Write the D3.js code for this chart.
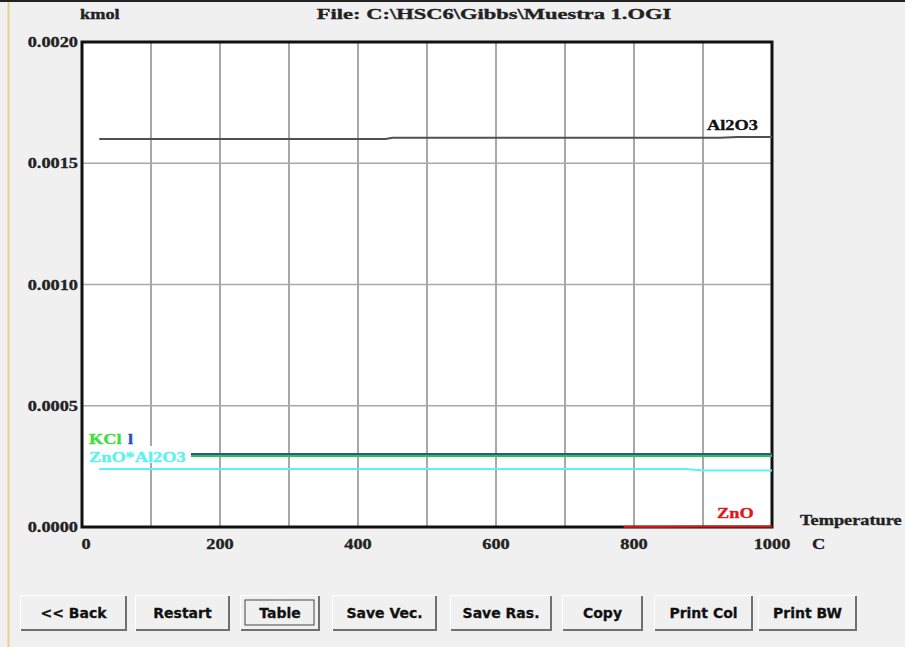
<!DOCTYPE html>
<html>
<head>
<meta charset="utf-8">
<script src="https://cdn.jsdelivr.net/npm/d3@7"></script>
<style>
  body { margin: 0; background: #f0f0f0; }
  svg { display: block; }
  .lbl { font-family: "Liberation Serif", serif; font-weight: bold; font-size: 15px; stroke-width: 0.35px; }
  .btn text { font-family: "DejaVu Sans", sans-serif; font-weight: bold; font-size: 14px; }
</style>
</head>
<body>
<svg id="chart" width="905" height="647"></svg>
<script>
// temperatures (C) and amounts (kmol)
let temps = [25, 50, 100, 150, 200, 250, 300, 350, 400, 440, 450, 500, 550, 600, 650, 700, 750, 800, 850, 875, 900, 925, 950, 1000];
let al2o3 = [0.001600, 0.001600, 0.001600, 0.001600, 0.001600, 0.001600, 0.001600, 0.001600, 0.001600, 0.001600, 0.001605, 0.001605, 0.001605, 0.001605, 0.001605, 0.001605, 0.001605, 0.001605, 0.001605, 0.001605, 0.001605, 0.001605, 0.001608, 0.001608];
let kclBlue = [0.000301, 0.000301, 0.000301, 0.000301, 0.000301, 0.000301, 0.000301, 0.000301, 0.000301, 0.000301, 0.000301, 0.000301, 0.000301, 0.000301, 0.000301, 0.000301, 0.000301, 0.000301, 0.000301, 0.000301, 0.000301, 0.000301, 0.000301, 0.000301];
let kclGreen = [0.000293, 0.000293, 0.000293, 0.000293, 0.000293, 0.000293, 0.000293, 0.000293, 0.000293, 0.000293, 0.000293, 0.000293, 0.000293, 0.000293, 0.000293, 0.000293, 0.000293, 0.000293, 0.000293, 0.000293, 0.000293, 0.000293, 0.000293, 0.000293];
let znoAl2o3 = [0.000239, 0.000239, 0.000239, 0.000239, 0.000239, 0.000239, 0.000239, 0.000239, 0.000239, 0.000239, 0.000239, 0.000239, 0.000239, 0.000239, 0.000239, 0.000239, 0.000239, 0.000239, 0.000239, 0.000239, 0.000233, 0.000233, 0.000233, 0.000233];
let znoTemps = [785, 800, 850, 900, 950, 1000];
let zno = [0.000001, 0.000001, 0.000001, 0.000002, 0.000002, 0.000002];

let xTicks = [0, 200, 400, 600, 800, 1000];
let yTicks = [0, 0.0005, 0.0010, 0.0015, 0.0020];
let buttons = ["<< Back", "Restart", "Table", "Save Vec.", "Save Ras.", "Copy", "Print Col", "Print BW"];

let svg = d3.select("#chart"),
    margin = {top: 42, right: 133, bottom: 120, left: 82},
    width = +svg.attr("width"),
    height = +svg.attr("height");

let x = d3.scaleLinear().domain([0, 1000]).range([margin.left, width - margin.right]);
let y = d3.scaleLinear().domain([0, 0.002]).range([height - margin.bottom, margin.top]);

// window frame
svg.append("rect").attr("x", 0).attr("y", 0).attr("width", width).attr("height", height).attr("fill", "#f0f0f0");
svg.append("line").attr("x1", 0).attr("x2", width).attr("y1", 1).attr("y2", 1).attr("stroke", "#222").attr("stroke-width", 2);
svg.append("line").attr("x1", 8.5).attr("x2", 8.5).attr("y1", 2).attr("y2", height).attr("stroke", "#e8d08c").attr("stroke-width", 2);

// plot area
svg.append("rect")
    .attr("x", x(0)).attr("y", y(0.002))
    .attr("width", x(1000) - x(0)).attr("height", y(0) - y(0.002))
    .attr("fill", "#fff");

// grid
let grid = svg.append("g");
grid.selectAll(".vg").data(d3.range(100, 1000, 100)).enter().append("line")
    .attr("x1", d => x(d)).attr("x2", d => x(d))
    .attr("y1", y(0.002)).attr("y2", y(0))
    .attr("stroke", "#a8a8a8").attr("stroke-width", 2);
grid.selectAll(".hg").data(yTicks.slice(1, 4)).enter().append("line")
    .attr("x1", x(0)).attr("x2", x(1000))
    .attr("y1", d => y(d)).attr("y2", d => y(d))
    .attr("stroke", "#a8a8a8").attr("stroke-width", 1.5);

svg.append("rect")
    .attr("x", x(0)).attr("y", y(0.002))
    .attr("width", x(1000) - x(0)).attr("height", y(0) - y(0.002))
    .attr("fill", "none").attr("stroke", "#111").attr("stroke-width", 3);

// series
let line = d3.line().x(d => x(d[0])).y(d => y(d[1]));
let series = [
    {name: "Al2O3", t: temps, v: al2o3, color: "#505050"},
    {name: "ZnO*Al2O3", t: temps, v: znoAl2o3, color: "#5cf2f2"},
    {name: "KCl", t: temps, v: kclGreen, color: "#2ec43a"},
    {name: "KCl", t: temps, v: kclBlue, color: "#2850b8"},
    {name: "ZnO", t: znoTemps, v: zno, color: "#e01818"}
];
svg.selectAll(".series").data(series).enter().append("path")
    .attr("d", s => line(s.t.map((t, i) => [t, s.v[i]])))
    .attr("fill", "none")
    .attr("stroke", s => s.color)
    .attr("stroke-width", 2);

// stretch text horizontally to mimic the wide raster font
function stretch(sel, k) {
    sel.each(function () {
        let w = this.getComputedTextLength();
        d3.select(this).attr("textLength", w * k).attr("lengthAdjust", "spacingAndGlyphs");
    });
}

let labels = svg.append("g").attr("class", "lbl");

// series labels (KCl is partly hidden behind the ZnO*Al2O3 label box)
labels.append("text").attr("x", 89).attr("y", 444).attr("fill", "#3ce03c").attr("stroke", "#3ce03c").text("KCl");
labels.append("text").attr("x", 128).attr("y", 444).attr("fill", "#2850b8").attr("stroke", "#2850b8").text("l");
labels.append("rect").attr("x", 88).attr("y", 446).attr("width", 103).attr("height", 17).attr("fill", "#fff");
labels.append("text").attr("x", 89).attr("y", 462).attr("fill", "#5cf2f2").attr("stroke", "#5cf2f2").text("ZnO*Al2O3");
labels.append("text").attr("x", 707).attr("y", 130).attr("fill", "#111").attr("stroke", "#111").text("Al2O3");
labels.append("text").attr("x", 717).attr("y", 518).attr("fill", "#e01818").attr("stroke", "#e01818").text("ZnO");

// axes text
labels.selectAll(".yt").data(yTicks).enter().append("text")
    .attr("x", 78).attr("y", d => y(d) + 5)
    .attr("text-anchor", "end").attr("fill", "#222").attr("stroke", "#222")
    .text(d => d3.format(".4f")(d));
labels.selectAll(".xt").data(xTicks).enter().append("text")
    .attr("x", d => x(d) + (d === 0 ? 4 : 0)).attr("y", 549)
    .attr("text-anchor", "middle").attr("fill", "#222").attr("stroke", "#222")
    .text(d => d);
labels.append("text").attr("x", 80).attr("y", 19).attr("fill", "#222").attr("stroke", "#222").text("kmol");
labels.append("text").attr("x", 800).attr("y", 525).attr("fill", "#222").attr("stroke", "#222").text("Temperature");
labels.append("text").attr("x", 812).attr("y", 549).attr("fill", "#222").attr("stroke", "#222").text("C");

stretch(labels.selectAll("text"), 1.22);

let title = labels.append("text").attr("x", 494).attr("y", 19).attr("text-anchor", "middle")
    .attr("fill", "#222").attr("stroke", "#222")
    .text("File: C:\\HSC6\\Gibbs\\Muestra 1.OGI");
stretch(title, 1.5);

// buttons
let btnW = [107, 95, 80, 105, 102, 81, 99, 99];
let btnL = [20, 135, 240, 332, 450, 562, 654, 758];
let bg = svg.selectAll(".btn").data(buttons).enter().append("g")
    .attr("class", "btn")
    .attr("transform", (d, i) => "translate(" + btnL[i] + ",595)");
bg.append("rect").attr("width", (d, i) => btnW[i]).attr("height", 36).attr("fill", "#f0f0f0");
bg.append("path")
    .attr("d", (d, i) => "M0.5,35.5 V0.5 H" + (btnW[i] - 0.5))
    .attr("fill", "none").attr("stroke", "#fff").attr("stroke-width", 1);
bg.append("path")
    .attr("d", (d, i) => "M1,35 H" + (btnW[i] - 1) + " V1")
    .attr("fill", "none").attr("stroke", "#707070").attr("stroke-width", 2);
bg.filter(d => d === "Table").append("rect")
    .attr("x", 5).attr("y", 5).attr("width", 69).attr("height", 25)
    .attr("fill", "none").attr("stroke", "#444").attr("stroke-width", 1);
bg.append("text")
    .attr("x", (d, i) => btnW[i] / 2).attr("y", 23)
    .attr("text-anchor", "middle").attr("fill", "#111")
    .attr("stroke", "#111").attr("stroke-width", 0.3)
    .text(d => d);
</script>
</body>
</html>
